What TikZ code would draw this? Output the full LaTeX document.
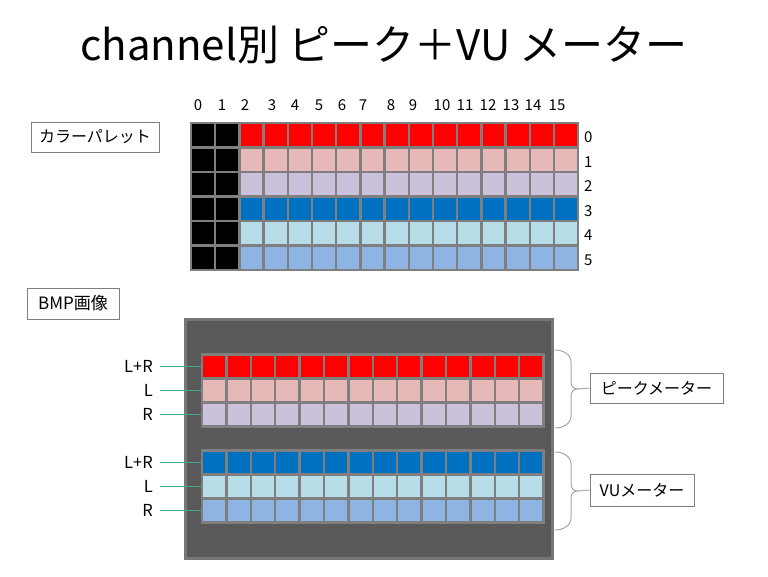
\documentclass[tikz,border=0pt]{standalone}
\usepackage{fontspec}
\setmainfont{Noto Sans CJK JP}
\definecolor{cellgray}{HTML}{7F7F7F}
\definecolor{boxgray}{HTML}{7F7F7F}
\definecolor{bracegray}{HTML}{A6A6A6}
\definecolor{bmpfill}{HTML}{595959}
\definecolor{bmpedge}{HTML}{767676}
\definecolor{tickgreen}{HTML}{3CA88A}
\definecolor{pkred}{HTML}{FF0000}
\definecolor{pkpink}{HTML}{E6B9B8}
\definecolor{pklav}{HTML}{CCC1DA}
\definecolor{vublue}{HTML}{0070C0}
\definecolor{vulight}{HTML}{B7DEE8}
\definecolor{vumid}{HTML}{8EB4E3}

\begin{document}
\begin{tikzpicture}
[every node/.style={inner sep=0pt},
 cell/.style={rectangle, minimum width=24.2pt, minimum height=24.5pt, line width=2.5pt, draw=cellgray},
 mcell/.style={rectangle, minimum width=24.4pt, minimum height=24pt, line width=2.5pt, draw=cellgray},
 tag/.style={rectangle, draw=boxgray, line width=0.8pt, fill=white, font=\fontsize{16}{19}\selectfont},
 num/.style={font=\fontsize{15}{18}\selectfont},
 lbl/.style={font=\fontsize{16.5}{19}\selectfont},
 tick/.style={line width=1pt, draw=tickgreen},
 brc/.style={line width=1pt, draw=bracegray}]
\useasboundingbox (0pt, 0pt) rectangle (768pt, -576pt);
\node (title) [font=\fontsize{42}{50}\selectfont] at (384pt, -45pt) {channel別 ピーク＋VU メーター};
% palette
\node (pal-tag) [tag, minimum width=128pt, minimum height=30pt] at (95pt, -137pt) {カラーパレット};
\foreach \clr [count=\r from 0] in {pkred, pkpink, pklav, vublue, vulight, vumid} {
  \foreach \c in {0,...,15} {
    \ifnum\c<2
      \node (pal-\r-\c) [cell, fill=black] at ({191pt+24.2pt*(\c+0.5)}, {-123pt-24.5pt*(\r+0.5)}) {};
    \else
      \node (pal-\r-\c) [cell, fill=\clr] at ({191pt+24.2pt*(\c+0.5)}, {-123pt-24.5pt*(\r+0.5)}) {};
    \fi
  }
  \node (row-\r) [num, anchor=west] at (584pt, {-125pt-24.5pt*(\r+0.5)}) {\r};
}
\foreach \x [count=\c from 0] in {198,222,245,272,295,319,342,363,391,413,442,465,488,511,533,557}
  \node (col-\c) [num] at (\x pt, -105pt) {\c};
% bmp
\node (bmp-tag) [tag, minimum width=92pt, minimum height=31pt, font=\fontsize{17}{20}\selectfont] at (73pt, -303.5pt) {BMP画像};
\node (bmp) [rectangle, fill=bmpfill, draw=bmpedge, line width=3pt, minimum width=367pt, minimum height=239pt] at (369pt, -439pt) {};
\foreach \grp/\ytop/\ca/\cb/\cc in {pk/354.5/pkred/pkpink/pklav, vu/450.5/vublue/vulight/vumid} {
  \foreach \clr [count=\r from 0] in {\ca, \cb, \cc} {
    \foreach \c in {0,...,13}
      \node (\grp-\r-\c) [mcell, fill=\clr] at ({202pt+24.4pt*(\c+0.5)}, {-(\ytop+24*(\r+0.5))*1pt}) {};
  }
  \foreach \t [count=\r from 0] in {L+R, L, R} {
    \node (\grp-lab-\r) [lbl, anchor=east] at (153pt, {-(\ytop+24*(\r+0.5))*1pt}) {\t};
    \draw [tick, shorten <=7pt] (\grp-lab-\r.east) -- (\grp-\r-0.west);
  }
}
% braces
\node (pk-tag) [tag, minimum width=133pt, minimum height=30pt] at (656.5pt, -388pt) {ピークメーター};
\node (vu-tag) [tag, minimum width=104pt, minimum height=32pt] at (642pt, -490pt) {VUメーター};
\foreach \grp/\ytop in {pk/350, vu/452}
  \draw [brc] (555pt, -\ytop pt) to[out=0, in=90] ++(16pt, -12pt) -- ++(0pt, -20pt)
    to[out=-90, in=180] ++(6pt, -7pt) coordinate (\grp-tip)
    to[out=180, in=90] ++(-6pt, -7pt) -- ++(0pt, -20pt) to[out=-90, in=0] ++(-16pt, -12pt);
\draw [brc] (pk-tip) -- (pk-tag.west);
\draw [brc] (vu-tip) -- (vu-tag.west);
\end{tikzpicture}
\end{document}
